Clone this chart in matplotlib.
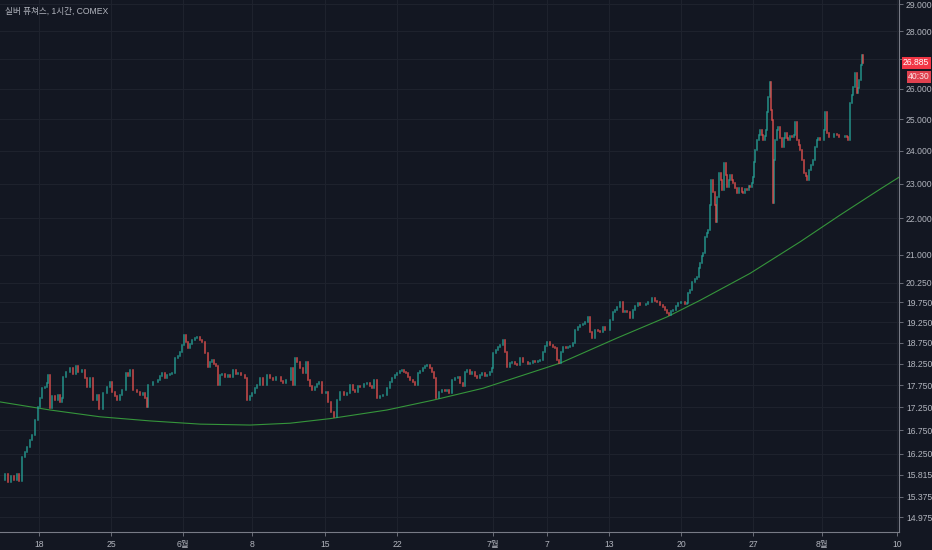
import matplotlib.pyplot as plt
import matplotlib.transforms as mtransforms
from matplotlib.ticker import FixedLocator, NullLocator

plt.rcParams['font.family'] = ['Liberation Sans', 'Noto Sans CJK KR']

# ========================
# Data (hourly bar index, close price)
# ========================
title = "실버 퓨쳐스, 1시간, COMEX"

bars = [
    # mid May - early June
    3, 8, 13, 18, 22, 27, 30, 35, 40, 43, 48, 51, 56, 61, 64, 67, 72,
    75, 77, 80, 83, 88, 93, 96, 99, 101, 106, 112, 117, 122, 125, 131,
    136, 139, 144, 149, 155, 158, 165, 171, 176, 179, 184, 187, 192, 195,
    202, 205, 208, 213, 219, 224, 229, 232, 235, 237, 245, 253, 256, 259,
    264, 267, 272, 275, 280, 285, 288, 291, 294, 298, 301, 304, 307, 312,
    315, 320, 323, 328, 333, 336, 339, 342, 346, 349, 352, 355, 360,
    # June
    365, 368, 373, 378, 381, 386, 392, 395, 400, 403, 408, 411, 416, 421,
    427, 432, 437, 442, 445, 450, 453, 458, 461, 466, 469, 472, 475, 480,
    485, 490, 493, 496, 499, 504, 507, 510, 515, 522, 525, 530, 534, 539,
    544, 550, 555, 560, 565, 568, 573, 576, 582, 587, 592, 595, 598, 603,
    608, 613, 619, 624, 627, 632, 635, 640, 643, 646, 650, 653, 656, 661,
    664, 669, 672, 677, 680, 683, 688, 691, 694, 698, 702, 707, 712, 715,
    718, 723, 728, 733,
    # July
    736, 741, 744, 747, 752, 755, 760, 763, 768, 771, 776, 779, 784, 787,
    789, 794, 797, 800, 805, 808, 811, 816, 819, 824, 827, 832, 837, 840,
    845, 848, 853, 856, 861, 864, 869, 872, 875, 880, 885, 888, 891, 894,
    898, 901, 906, 909, 912, 917, 920, 925, 928, 933, 936, 941, 944, 947,
    952, 957, 960, 965, 968, 971, 976, 981, 984, 987, 992, 997, 1000, 1003,
    1008, 1013, 1016, 1021, 1024, 1029, 1034, 1037, 1043, 1048, 1051, 1056,
    1061, 1064, 1067, 1070, 1074, 1077, 1082, 1085, 1090, 1093, 1096, 1099,
    1101, 1104, 1107,
    # late July - August
    1112, 1115, 1118, 1120, 1123, 1125, 1128, 1131, 1133, 1136, 1138, 1141,
    1144, 1146, 1147, 1150, 1154, 1155, 1158, 1162, 1163, 1166, 1168, 1171,
    1173, 1176, 1179, 1182, 1184, 1187, 1189, 1192, 1195, 1198, 1200, 1203,
    1205, 1206, 1208, 1211, 1214, 1216, 1219, 1221, 1224, 1226, 1227, 1229,
    1232, 1234, 1235, 1237, 1238, 1240, 1243, 1245, 1248, 1251, 1254, 1256,
    1259, 1261, 1264, 1267, 1270, 1272, 1275, 1278, 1280, 1283, 1286, 1290,
    1291, 1294, 1298, 1301, 1304, 1307, 1309, 1312, 1315, 1318, 1320, 1323,
    1326, 1331, 1334, 1339, 1342, 1347, 1352, 1355, 1357, 1360, 1363, 1365,
    1368, 1371, 1373, 1374, 1378, 1379, 1381,
]

closes = [
    15.70, 15.82, 15.66, 15.78, 15.70, 15.82, 15.68, 16.17, 16.28, 16.38,
    16.53, 16.64, 16.97, 17.26, 17.45, 17.68, 17.70, 17.79, 17.98, 17.23,
    17.50, 17.41, 17.52, 17.37, 17.45, 17.93, 18.05, 18.14, 18.00, 18.19,
    18.05, 18.10, 17.91, 17.70, 17.91, 17.41, 17.52, 17.21, 17.57, 17.70,
    17.82, 17.59, 17.50, 17.41, 17.52, 17.64, 18.02, 17.95, 18.10, 17.64,
    17.59, 17.52, 17.57, 17.45, 17.26, 17.75, 17.82, 17.86, 17.95, 18.02,
    17.91, 17.98, 18.00, 18.02, 18.38, 18.43, 18.52, 18.69, 18.93, 18.76,
    18.62, 18.71, 18.81, 18.86, 18.88, 18.81, 18.76, 18.50, 18.17, 18.28,
    18.33, 18.24, 18.19, 17.75, 17.98, 18.00, 17.93,
    #
    17.98, 17.93, 18.10, 18.00, 18.02, 17.98, 17.91, 17.41, 17.50, 17.57,
    17.68, 17.75, 17.91, 17.75, 17.98, 17.91, 17.86, 17.93, 17.93, 17.84,
    17.79, 17.86, 17.86, 18.14, 17.75, 18.38, 18.28, 18.14, 18.02, 18.28,
    17.86, 17.73, 17.64, 17.70, 17.77, 17.82, 17.57, 17.59, 17.37, 17.15,
    17.04, 17.41, 17.59, 17.52, 17.57, 17.75, 17.64, 17.59, 17.73, 17.70,
    17.77, 17.79, 17.73, 17.68, 17.86, 17.45, 17.50, 17.52, 17.68, 17.82,
    17.91, 17.98, 18.02, 18.07, 18.10, 18.05, 18.02, 17.93, 17.86, 17.82,
    17.75, 18.02, 18.07, 18.14, 18.19, 18.21, 18.14, 18.05, 17.91, 17.45,
    17.59, 17.64, 17.61, 17.64, 17.57, 17.86, 17.91, 17.93,
    #
    17.79, 17.72, 18.05, 18.10, 18.00, 18.05, 17.95, 17.91, 17.98, 18.02,
    17.95, 17.98, 18.05, 18.14, 18.50, 18.57, 18.64, 18.69, 18.81, 18.52,
    18.17, 18.26, 18.28, 18.24, 18.21, 18.38, 18.28, 18.28, 18.24, 18.26,
    18.31, 18.28, 18.31, 18.33, 18.52, 18.66, 18.76, 18.69, 18.64, 18.62,
    18.33, 18.26, 18.52, 18.64, 18.62, 18.64, 18.66, 18.74, 19.05, 19.13,
    19.18, 19.20, 19.25, 19.38, 19.01, 18.86, 19.05, 19.03, 19.01, 19.13,
    19.05, 19.05, 19.30, 19.50, 19.55, 19.63, 19.75, 19.50, 19.53, 19.50,
    19.35, 19.55, 19.65, 19.73, 19.68, 19.68, 19.70, 19.75, 19.85, 19.77,
    19.75, 19.68, 19.63, 19.55, 19.48, 19.43, 19.53, 19.55, 19.65, 19.73,
    19.75, 19.75, 19.70, 19.73, 19.98, 20.06, 20.27,
    #
    20.35, 20.40, 20.64, 20.77, 20.96, 21.04, 21.48, 21.59, 21.67, 22.39,
    23.12, 22.77, 22.39, 21.90, 22.62, 23.33, 23.12, 22.83, 23.63, 23.27,
    22.91, 23.12, 23.27, 23.12, 23.03, 22.88, 22.74, 22.88, 22.88, 22.77,
    22.74, 22.86, 22.83, 22.94, 22.91, 23.03, 23.21, 23.66, 24.03, 24.34,
    24.50, 24.65, 24.50, 24.34, 24.47, 24.65, 25.23, 25.72, 26.22, 25.29,
    24.97, 22.44, 23.72, 24.34, 24.65, 24.75, 24.40, 24.12, 24.40, 24.56,
    24.40, 24.34, 24.47, 24.43, 24.50, 24.91, 24.34, 24.19, 24.03, 23.72,
    23.33, 23.24, 23.12, 23.42, 23.57, 23.72, 24.12, 24.34, 24.40, 24.34,
    24.34, 24.65, 25.23, 24.56, 24.43, 24.43, 24.53, 24.50, 24.43, 24.43,
    24.47, 24.43, 24.34, 25.52, 25.79, 26.06, 26.53, 25.86, 26.02, 26.29,
    26.80, 27.16, 26.885,
]

# long-term curve (green)
curve_bars = [0, 80, 160, 240, 320, 400, 464, 528, 619, 693, 773, 896, 987,
              1067, 1120, 1200, 1280, 1344, 1408, 1438]
curve_vals = [17.37, 17.19, 17.04, 16.95, 16.88, 16.86, 16.90, 17.00, 17.19,
              17.41, 17.68, 18.26, 18.86, 19.38, 19.80, 20.50, 21.35, 22.10,
              22.85, 23.20]

price_ticks = [14.975, 15.375, 15.815, 16.25, 16.75, 17.25, 17.75, 18.25,
               18.75, 19.25, 19.75, 20.25, 21.0, 22.0, 23.0, 24.0, 25.0,
               26.0, 27.0, 28.0, 29.0]
hidden_ticks = [27.0]   # covered by the last-price label
date_ticks = [62, 178, 293, 403, 520, 635, 789, 875, 974, 1090, 1205, 1315, 1435]
date_labels = ["18", "25", "6월", "8", "15", "22", "7월", "7", "13", "20",
               "27", "8월", "10"]
last_label = "26.885"
countdown = "40:30"

assert len(bars) == len(closes)

# ========================
# Style
# ========================
BG = "#131722"
GRID = "#1e222d"
AXIS = "#787b86"
TEXT = "#b2b5be"
UP = "#26a69a"
DOWN = "#ef5350"

fig = plt.figure(figsize=(9.32, 5.5), dpi=100, facecolor=BG)
ax = fig.add_axes([0, 18 / 550, 899 / 932, 532 / 550], facecolor=BG)
ax.set_yscale("log")
ax.set_ylim(14.69, 29.15)
ax.set_xlim(0, 1438)

# candles: open = previous close
opens = [closes[0]] + closes[:-1]
up_x, up_lo, up_hi = [], [], []
dn_x, dn_lo, dn_hi = [], [], []
for b, o, c in zip(bars, opens, closes):
    if c >= o:
        up_x.append(b); up_lo.append(o); up_hi.append(c)
    else:
        dn_x.append(b); dn_lo.append(c); dn_hi.append(o)
ax.vlines(up_x, up_lo, up_hi, colors=UP, linewidth=1.1, capstyle="projecting",
          alpha=0.85, zorder=3)
ax.vlines(dn_x, dn_lo, dn_hi, colors=DOWN, linewidth=1.1, capstyle="projecting",
          alpha=0.85, zorder=3)

ax.plot(curve_bars, curve_vals, color="#35953b", linewidth=0.8, zorder=2)

# axes
ax.yaxis.set_major_locator(FixedLocator(price_ticks))
ax.yaxis.set_minor_locator(NullLocator())
ax.set_yticklabels(["" if v in hidden_ticks else f"{v:.3f}" for v in price_ticks])
ax.set_xticks(date_ticks, date_labels)
ax.tick_params(axis="y", left=False, right=True, labelleft=False, labelright=True,
               length=3, width=0.6, color=AXIS, labelcolor=TEXT, labelsize=6.2, pad=2)
ax.tick_params(axis="x", length=3, width=0.6, color=AXIS, labelcolor=TEXT,
               labelsize=6.2, pad=3)
ax.grid(True, color=GRID, linewidth=0.8, zorder=0)
for s in ["top", "left"]:
    ax.spines[s].set_visible(False)
for s in ["right", "bottom"]:
    ax.spines[s].set_color(AXIS)
    ax.spines[s].set_linewidth(0.8)

# last price + countdown labels
trans = mtransforms.blended_transform_factory(ax.transAxes, ax.transData)
ax.annotate(last_label, xy=(1.0, closes[-1]), xycoords=trans, xytext=(4, 0),
            textcoords="offset pixels", ha="left", va="center", fontsize=6.2,
            color="white", annotation_clip=False,
            bbox=dict(boxstyle="square,pad=0.15", fc="#f23645", ec="none"))
ax.annotate(countdown, xy=(1.0, closes[-1]), xycoords=trans, xytext=(9, -14),
            textcoords="offset pixels", ha="left", va="center", fontsize=6.2,
            color="#fde3e5", annotation_clip=False,
            bbox=dict(boxstyle="square,pad=0.15", fc="#e0414f", ec="none"))

fig.text(5 / 932, 1 - 11 / 550, title, color=TEXT, fontsize=6.2,
         ha="left", va="center")

fig.savefig("out.png", dpi=100, facecolor=BG)
